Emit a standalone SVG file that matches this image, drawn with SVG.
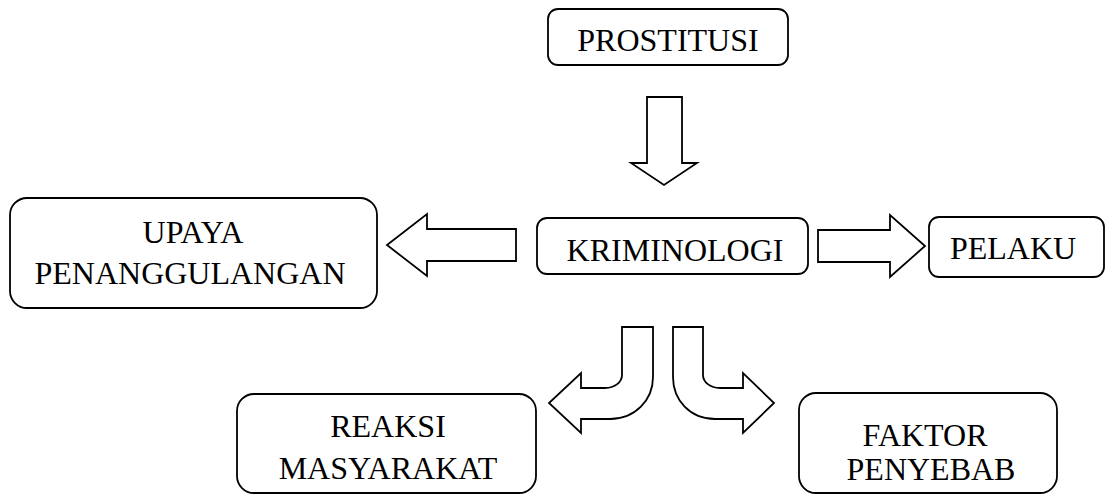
<svg xmlns="http://www.w3.org/2000/svg" width="1107" height="495" viewBox="0 0 1107 495">
<style>
.box{fill:#fff;stroke:#000;stroke-width:1.8}
.arr{fill:#fff;stroke:#000;stroke-width:1.8;stroke-linejoin:miter}
text{font-family:"Liberation Serif","Times New Roman",serif;font-size:32px;fill:#000;text-anchor:middle}
</style>
<rect width="1107" height="495" fill="#fff"/>
<g id="connectors">
<path class="arr" d="M647,97 L682,97 L682,163 L697,163 L664,185 L631,163 L647,163 Z"/>
<path class="arr" d="M516,229 L516,261 L427,261 L427,276 L387,245 L427,214 L427,229 Z"/>
<path class="arr" d="M818,230 L890,230 L890,215 L925,246 L890,277 L890,262 L818,262 Z"/>
<path class="arr" d="M622,327 L653,327 L653,377 C653,400 635,419 610,419 L581,419 L581,433 L549,403 L581,373 L581,388 L605,388 C615,388 622,382 622,375 Z"/>
<path class="arr" d="M673,327 L703,327 L703,375 C703,382 710,388 720,388 L743,388 L743,373 L774,403 L743,433 L743,419 L715,419 C690,419 673,400 673,377 Z"/>
</g>
<g id="prostitusi">
<rect class="box" x="548" y="9" width="240" height="56" rx="10"/>
<text x="668" y="51">PROSTITUSI</text>
</g>
<g id="kriminologi">
<rect class="box" x="537" y="218" width="271" height="56" rx="10"/>
<text x="675" y="261">KRIMINOLOGI</text>
</g>
<g id="pelaku">
<rect class="box" x="929" y="217" width="175" height="60" rx="10"/>
<text x="1013" y="259">PELAKU</text>
</g>
<g id="upaya">
<rect class="box" x="10" y="198" width="367" height="110" rx="17"/>
<text x="193" y="243">UPAYA</text>
<text x="190" y="284">PENANGGULANGAN</text>
</g>
<g id="reaksi">
<rect class="box" x="237" y="394" width="299" height="99" rx="17"/>
<text x="388" y="437">REAKSI</text>
<text x="388" y="479">MASYARAKAT</text>
</g>
<g id="faktor">
<rect class="box" x="799" y="393" width="258" height="100" rx="17"/>
<text x="925" y="446">FAKTOR</text>
<text x="931" y="480">PENYEBAB</text>
</g>
</svg>
